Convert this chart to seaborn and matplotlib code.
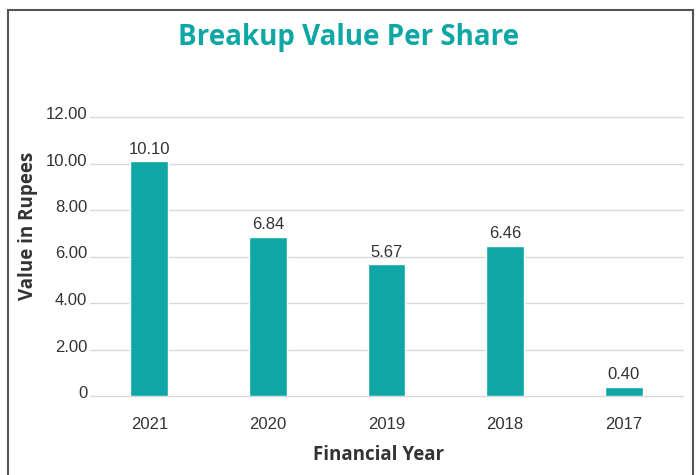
import numpy as np
import pandas as pd
import matplotlib
matplotlib.use("Agg")
import matplotlib.pyplot as plt
import matplotlib.transforms as mtransforms
import seaborn as sns
from matplotlib.patches import Rectangle

years = ["2021", "2020", "2019", "2018", "2017"]
values = [10.10, 6.84, 5.67, 6.46, 0.40]
yticks = [0, 2, 4, 6, 8, 10, 12]
ytick_labels = ["0", "2.00", "4.00", "6.00", "8.00", "10.00", "12.00"]

teal = "#0fa6a6"
df = pd.DataFrame({"year": years, "value": values})

sns.set_theme(style="white")
plt.rcParams["font.family"] = ["Liberation Sans", "DejaVu Sans"]

fig = plt.figure(figsize=(6.97, 4.75), dpi=100)
ax = fig.add_axes([90 / 697, 1 - 396 / 475, 593 / 697, 279 / 475])

sns.barplot(data=df, x="year", y="value", color=teal, width=0.32,
            saturation=1, ax=ax, zorder=3)

ax.set_ylim(0, 12)
ax.set_xlim(-0.5, 4.5)
ax.set_yticks(yticks)
ax.set_yticklabels(ytick_labels)
ax.yaxis.grid(True, color="#d9d9d9", linewidth=1)
for gl in ax.get_ygridlines():
    gl.set_clip_on(False)
ax.tick_params(axis="both", length=0, labelsize=12, labelcolor="#333333")
ax.tick_params(axis="y", pad=2)
ax.tick_params(axis="x", pad=15)
for s in ax.spines.values():
    s.set_visible(False)

# y tick labels sit a little above their gridlines
shift = mtransforms.ScaledTranslation(0, 4 / 100, fig.dpi_scale_trans)
for lab in ax.get_yticklabels():
    lab.set_transform(lab.get_transform() + shift)

for i, v in enumerate(values):
    ax.text(i, v + 0.2, f"{v:.2f}", ha="center", va="bottom",
            fontsize=12, color="#333333")

ax.set_xlabel("Financial Year", fontsize=13.5, fontweight="bold",
              color="#333333", family=["Open Sans", "DejaVu Sans"])
ax.set_ylabel("Value in Rupees", fontsize=13.5, fontweight="bold",
              color="#333333", family=["Open Sans", "DejaVu Sans"])
ax.xaxis.set_label_coords((379 - 90) / 593, -(455 - 396) / 279)
ax.yaxis.set_label_coords((28 - 90) / 593, (396 - 226) / 279)
ax.xaxis.label.set_va("center")
ax.yaxis.label.set_va("center")

fig.text(0.5, 1 - 37 / 475, "Breakup Value Per Share", ha="center", va="center",
         fontsize=20, fontweight="bold", color=teal,
         family=["Open Sans", "DejaVu Sans"])

fig.patches.append(Rectangle((8 / 697, -0.05), 685 / 697, 1.05 - 10 / 475,
                             transform=fig.transFigure, fill=False,
                             edgecolor="#555555", linewidth=1.5))

fig.savefig("out.png", dpi=100)
